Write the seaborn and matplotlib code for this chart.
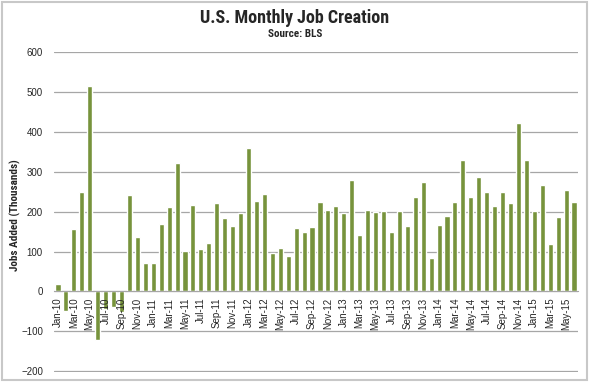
import matplotlib
matplotlib.use("Agg")
import matplotlib.pyplot as plt
import seaborn as sns
import pandas as pd
from matplotlib.patches import Rectangle

# Month labels, Jan-10 .. Jun-15
months = ['Jan', 'Feb', 'Mar', 'Apr', 'May', 'Jun', 'Jul', 'Aug', 'Sep', 'Oct', 'Nov', 'Dec']
years = ['10', '11', '12', '13', '14', '15']
labels = [m + '-' + y for y in years for m in months][:66]

# Jobs added (thousands)
jobs_2010 = [18, -50, 156, 250, 516, -122, -45, -40, -52, 241, 137, 71]
jobs_2011 = [70, 168, 212, 322, 102, 217, 106, 122, 221, 183, 164, 196]
jobs_2012 = [360, 226, 243, 96, 110, 88, 160, 150, 161, 225, 203, 214]
jobs_2013 = [197, 280, 141, 203, 199, 201, 149, 202, 164, 237, 274, 84]
jobs_2014 = [166, 188, 225, 330, 236, 286, 249, 213, 250, 221, 423, 329]
jobs_2015 = [201, 266, 119, 187, 254, 223]
jobs = jobs_2010 + jobs_2011 + jobs_2012 + jobs_2013 + jobs_2014 + jobs_2015

y_ticks = list(range(-200, 601, 100))

df = pd.DataFrame({'Month': labels, 'Jobs': jobs})

sns.set_style("white")
cond = ['Roboto Condensed', 'DejaVu Sans']
plt.rcParams['font.family'] = ['Liberation Sans', 'DejaVu Sans']

fig = plt.figure(figsize=(5.9, 3.82), dpi=100)
ax = fig.add_axes([54 / 590, 1 - 372 / 382, 524 / 590, 320 / 382])

# gridlines behind the bars, tick labels stay on top
for t in y_ticks:
    ax.axhline(t, color='#a6a6a6', linewidth=0.9, zorder=0.5)

sns.barplot(data=df, x='Month', y='Jobs', color='#77933C', saturation=1,
            width=0.64, ax=ax, zorder=1)
ax.set_axisbelow(False)

ax.set_ylim(-202, 600)
ax.set_xlim(-0.5, len(labels) - 0.5)
ax.set_yticks(y_ticks)
for s in ['top', 'right', 'left']:
    ax.spines[s].set_visible(False)
ax.spines['bottom'].set_position(('data', 0))
ax.spines['bottom'].set_color('#a6a6a6')

ax.set_xticks(range(0, len(labels), 2))
ax.set_xticklabels(labels[::2], rotation=90, fontsize=7)
ax.tick_params(axis='x', length=2.5, color='#a6a6a6', pad=2)
ax.tick_params(axis='y', length=0, pad=8, labelsize=7)
ax.set_xlabel('')
ax.set_ylabel('Jobs Added (Thousands)', fontsize=8, fontweight='bold',
              family=cond, labelpad=10)
ax.yaxis.set_label_coords(-0.063, 0.49)

fig.text(0.5, 0.952, 'U.S. Monthly Job Creation', ha='center', va='center',
         fontsize=13, fontweight='bold', family=cond)
fig.text(0.5, 0.912, 'Source: BLS', ha='center', va='center',
         fontsize=8, fontweight='bold', family=cond)

fig.patches.append(Rectangle((0.003, 0.004), 0.992, 0.99, transform=fig.transFigure,
                             fill=False, edgecolor='#c8c8c8', linewidth=1.5))

plt.savefig('out.png', dpi=100)
